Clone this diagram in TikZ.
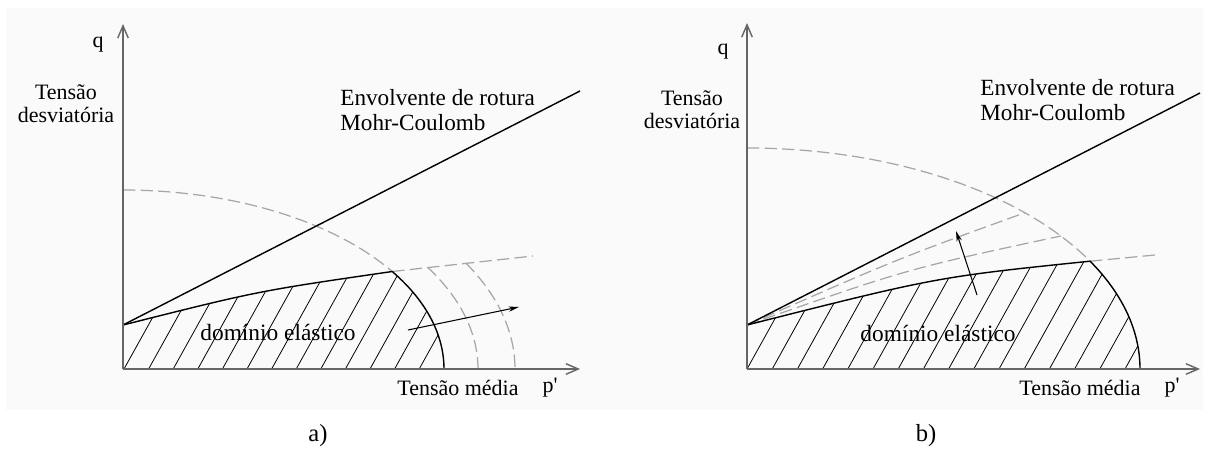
\documentclass[tikz,border=0pt]{standalone}
\usepackage{fontspec}
\setmainfont{Liberation Serif}
\usetikzlibrary{arrows.meta}

\begin{document}
\begin{tikzpicture}[x=0.02cm,y=-0.02cm,
  axis/.style={draw=black!60,line width=0.8pt,-{Straight Barb[length=7pt,width=6pt]}},
  mcline/.style={line width=0.8pt},
  yieldline/.style={line width=0.8pt},
  capdash/.style={draw=black!35,line width=0.7pt,dash pattern=on 7pt off 3pt},
  hatchline/.style={line width=0.45pt},
  move/.style={line width=0.6pt,-{Stealth[length=6pt,width=3pt]}},
  lbl/.style={font=\fontsize{12.5}{13.2}\selectfont,inner sep=0pt},
  envlbl/.style={lbl,font=\fontsize{13.2}{13.8}\selectfont,align=left,anchor=west},
  caplbl/.style={lbl,font=\fontsize{14}{16}\selectfont}]
  \useasboundingbox (0,0) rectangle (1209,452);
  \fill[black!2] (6,8) rectangle (1203,410);

  % a)
  \coordinate (oa) at (123,369);
  \coordinate (qa) at (123,24);
  \coordinate (pa) at (580,369);
  \coordinate (ca) at (123,325);
  \coordinate (mca) at (580,91);
  \coordinate (ja) at ({123+321*cos(33)},{369-179*sin(33)});
  \coordinate (ea) at (533,256);
  \begin{scope}
    \clip (oa) -- (ca) .. controls (258,291) .. (ja)
      -- plot[domain=33:0,samples=30] ({123+321*cos(\x)},{369-179*sin(\x)}) -- cycle;
    \foreach \i in {0,...,13}
      \draw[hatchline] ({124+24.6*\i},369) -- ++(70,-126);
  \end{scope}
  \draw[capdash] plot[domain=90:33,samples=40] ({123+321*cos(\x)},{369-179*sin(\x)});
  \draw[capdash] (ja) -- (ea);
  \draw[capdash] plot[domain=31:0,samples=30] ({123+355*cos(\x)},{369-198*sin(\x)});
  \draw[capdash] plot[domain=29:0,samples=30] ({123+392*cos(\x)},{369-218.6*sin(\x)});
  \draw[yieldline] (ca) .. controls (258,291) .. (ja)
    -- plot[domain=33:0,samples=30] ({123+321*cos(\x)},{369-179*sin(\x)});
  \draw[mcline] (ca) -- (mca);
  \draw[axis] (oa) -- (qa);
  \draw[axis] (oa) -- (pa);
  \coordinate (sa) at (408,330);
  \coordinate (ta) at (519,307);
  \draw[move] (sa) -- (ta);
  \node[lbl] (qlaba) at (98,45) {q};
  \node[lbl,align=center] (tdesva) at (66,104) {Tensão\\desviatória};
  \node[envlbl] (mclaba) at (340,110) {Envolvente de rotura\\Mohr-Coulomb};
  \node[lbl,font=\fontsize{13.3}{14}\selectfont] (doma) at (278,332) {domínio elástico};
  \node[lbl] (tmeda) at (458,388) {Tensão média};
  \node[lbl] (plaba) at (550,388) {p\textquotesingle};
  \node[caplbl] (capa) at (318,436) {a)};

  % b)
  \coordinate (ob) at (747,369);
  \coordinate (qb) at (747,23);
  \coordinate (pb) at (1200,369);
  \coordinate (cb) at (747,325);
  \coordinate (mcb) at (1200,93);
  \coordinate (jb) at ({747+393*cos(29.2)},{369-221*sin(29.2)});
  \coordinate (eb) at (1155,255);
  \coordinate (fa) at ({747+393*cos(45)},{369-221*sin(45)});
  \coordinate (fb) at ({747+393*cos(37)},{369-221*sin(37)});
  \begin{scope}
    \clip (ob) -- (cb) .. controls (937,277) .. (jb)
      -- plot[domain=29.2:0,samples=30] ({747+393*cos(\x)},{369-221*sin(\x)}) -- cycle;
    \foreach \i in {0,...,15}
      \draw[hatchline] ({747+25.2*\i},369) -- ++(70,-126);
  \end{scope}
  \draw[capdash] plot[domain=90:29.2,samples=40] ({747+393*cos(\x)},{369-221*sin(\x)});
  \draw[capdash] (jb) -- (eb);
  \draw[capdash] (cb) .. controls (897,259) .. (fa);
  \draw[capdash] (cb) .. controls (907,269) .. (fb);
  \draw[yieldline] (cb) .. controls (937,277) .. (jb)
    -- plot[domain=29.2:0,samples=30] ({747+393*cos(\x)},{369-221*sin(\x)});
  \draw[mcline] (cb) -- (mcb);
  \draw[axis] (ob) -- (qb);
  \draw[axis] (ob) -- (pb);
  \coordinate (sb) at (977,295);
  \coordinate (tb) at (956,231);
  \draw[move] (sb) -- (tb);
  \node[lbl] (qlabb) at (723,52) {q};
  \node[lbl,align=center] (tdesvb) at (692,110) {Tensão\\desviatória};
  \node[envlbl] (mclabb) at (980,100) {Envolvente de rotura\\Mohr-Coulomb};
  \node[lbl,font=\fontsize{13.3}{14}\selectfont] (domb) at (938,333) {domínio elástico};
  \node[lbl] (tmedb) at (1080,388) {Tensão média};
  \node[lbl] (plabb) at (1172,388) {p\textquotesingle};
  \node[caplbl] (capb) at (926,436) {b)};
\end{tikzpicture}
\end{document}
